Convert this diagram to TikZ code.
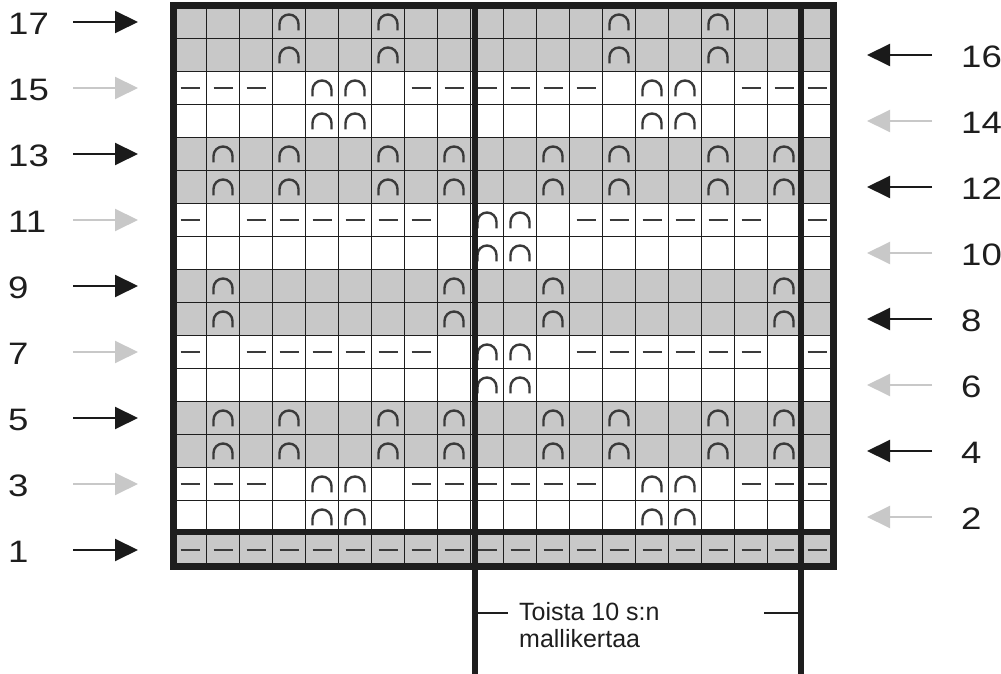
\documentclass[tikz,border=0pt]{standalone}
\usepackage{fontspec}
\setmainfont{Liberation Sans}
\usetikzlibrary{arrows.meta}
\definecolor{cellgray}{HTML}{C8C8C8}
\definecolor{gridline}{HTML}{1E1E1E}
\definecolor{symcol}{HTML}{3A3A3A}
\definecolor{arrowgray}{HTML}{C8C8C8}
\definecolor{arrowdark}{HTML}{1A1A1A}
\definecolor{textcol}{HTML}{1E1E1E}
\newcommand\archat[2]{\draw[symline] ({190+(#1-1)*33-9.5},{124+(#2-1)*33-8.5}) -- ++(0,6.5) arc (180:0:9.5) -- ++(0,-6.5);}
\newcommand\dashat[2]{\draw[dashsym] ({190+(#1-1)*33-9.5},{124+(#2-1)*33}) -- ++(19,0);}
\begin{document}
\begin{tikzpicture}[x=1pt,y=1pt,
  thinline/.style={draw=gridline, line width=1.5pt},
  thickline/.style={draw=gridline, line width=6pt},
  outerline/.style={draw=gridline, line width=7pt},
  symline/.style={draw=symcol, line width=2.4pt},
  dashsym/.style={draw=symcol, line width=2pt},
  darrow/.style={draw=arrowdark, line width=2pt, -{Triangle[length=23pt,width=22pt]}},
  larrow/.style={draw=arrowgray, line width=2pt, -{Triangle[length=23pt,width=22pt]}},
  rowlabel/.style={anchor=west, inner sep=0pt, font=\fontsize{31}{31}\selectfont, text=textcol, xscale=1.18},
  notetext/.style={anchor=base west, inner sep=0pt, font=\fontsize{25}{27}\selectfont, text=textcol},
]
\useasboundingbox (0,0) rectangle (1001,674);
\fill[white] (0,0) rectangle (1001,674);
% gray rows
\foreach \k in {17,16,13,12,9,8,5,4,1}
  \fill[cellgray] (173.5,{107.5+(\k-1)*33}) rectangle (833.5,{107.5+\k*33});
% thin grid
\foreach \c in {1,...,19}
  \draw[thinline] ({173.5+\c*33},107.5) -- ({173.5+\c*33},668.5);
\foreach \r in {1,...,16}
  \draw[thinline] (173.5,{107.5+\r*33}) -- (833.5,{107.5+\r*33});
% symbols
\foreach \r in {17,16} {\foreach \c in {4,7,14,17} {\archat{\c}{\r}}}
\foreach \r in {15,3} {
  \foreach \c in {1,2,3,8,9,10,11,12,13,18,19,20} {\dashat{\c}{\r}}
  \foreach \c in {5,6,15,16} {\archat{\c}{\r}}
}
\foreach \r in {14,2} {\foreach \c in {5,6,15,16} {\archat{\c}{\r}}}
\foreach \r in {13,12,5,4} {\foreach \c in {2,4,7,9,12,14,17,19} {\archat{\c}{\r}}}
\foreach \r in {11,7} {
  \foreach \c in {1,3,4,5,6,7,8,13,14,15,16,17,18,20} {\dashat{\c}{\r}}
  \foreach \c in {10,11} {\archat{\c}{\r}}
}
\foreach \r in {10,6} {\foreach \c in {10,11} {\archat{\c}{\r}}}
\foreach \r in {9,8} {\foreach \c in {2,9,12,19} {\archat{\c}{\r}}}
\foreach \c in {1,...,20} {\dashat{\c}{1}}
% thick lines
\coordinate (hl) at (173.5,141.5);
\coordinate (hr) at (833.5,141.5);
\draw[thickline] (hl) -- (hr);
\coordinate (v1t) at (475,668.5);
\coordinate (v1b) at (475,0);
\coordinate (v2t) at (801,668.5);
\coordinate (v2b) at (801,0);
\draw[thickline] (v1t) -- (v1b);
\draw[thickline] (v2t) -- (v2b);
\draw[outerline] (173.5,107.5) rectangle (833.5,668.5);
% repeat bracket
\coordinate (t1a) at (475,61);
\coordinate (t1b) at (508,61);
\coordinate (t2a) at (764,61);
\coordinate (t2b) at (801,61);
\draw[thinline] (t1a) -- (t1b);
\draw[thinline] (t2a) -- (t2b);
\node[notetext] (toista) at (519,53) {Toista 10 s:n};
\node[notetext] (malli) at (519,26) {mallikertaa};
% row labels and arrows
\foreach \k in {17,13,9,5,1} {
  \coordinate (ls\k) at (73,{124+(\k-1)*33});
  \coordinate (le\k) at (138,{124+(\k-1)*33});
  \node[rowlabel] (ln\k) at (8,{122+(\k-1)*33}) {\k};
  \draw[darrow] (ls\k) -- (le\k);
}
\foreach \k in {15,11,7,3} {
  \coordinate (ls\k) at (73,{124+(\k-1)*33});
  \coordinate (le\k) at (138,{124+(\k-1)*33});
  \node[rowlabel] (ln\k) at (8,{122+(\k-1)*33}) {\k};
  \draw[larrow] (ls\k) -- (le\k);
}
\foreach \k in {16,12,8,4} {
  \coordinate (rs\k) at (932,{124+(\k-1)*33});
  \coordinate (re\k) at (867,{124+(\k-1)*33});
  \node[rowlabel] (rn\k) at (961,{122+(\k-1)*33}) {\k};
  \draw[darrow] (rs\k) -- (re\k);
}
\foreach \k in {14,10,6,2} {
  \coordinate (rs\k) at (932,{124+(\k-1)*33});
  \coordinate (re\k) at (867,{124+(\k-1)*33});
  \node[rowlabel] (rn\k) at (961,{122+(\k-1)*33}) {\k};
  \draw[larrow] (rs\k) -- (re\k);
}
\end{tikzpicture}
\end{document}
